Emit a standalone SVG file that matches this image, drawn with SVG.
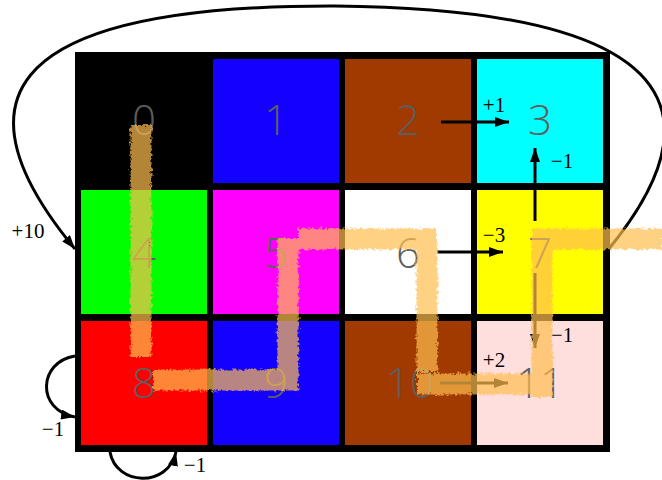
<svg xmlns="http://www.w3.org/2000/svg" width="662" height="480" viewBox="0 0 662 480">
  <style>
    .num { font-family: "Open Sans", "Lato", "DejaVu Sans", sans-serif; font-weight: 300; font-size: 42px; fill: #5e5e5e; text-anchor: middle; }
    .lbl { font-family: "Liberation Serif", "Times New Roman", serif; font-size: 21px; fill: #000; text-anchor: middle; }
    .edge { fill: none; stroke: #000; stroke-width: 3; }
    .brush { fill: none; stroke: rgb(255,190,80); stroke-width: 21; stroke-linecap: butt; }
  </style>
  <defs>
    <marker id="ah" viewBox="0 0 14 10" refX="14" refY="5" markerWidth="14" markerHeight="10" markerUnits="userSpaceOnUse" orient="auto">
      <path d="M0,0 L14,5 L0,10 z" fill="#000"/>
    </marker>
    <filter id="rough" x="-10%" y="-10%" width="120%" height="120%">
      <feTurbulence type="fractalNoise" baseFrequency="0.35" numOctaves="2" seed="3" result="n"/>
      <feDisplacementMap in="SourceGraphic" in2="n" scale="6" xChannelSelector="R" yChannelSelector="G"/>
    </filter>
  </defs>

  <rect x="75" y="52" width="535" height="400" fill="#000"/>

  <g id="cell0"><rect x="81" y="59" width="126" height="124" fill="#000"/><text class="num" x="144" y="135">0</text></g>
  <g id="cell1"><rect x="213" y="59" width="126" height="124" fill="#1400ff"/><text class="num" x="276" y="135">1</text></g>
  <g id="cell2"><rect x="345" y="59" width="126" height="124" fill="#a03a00"/><text class="num" x="408" y="135">2</text></g>
  <g id="cell3"><rect x="477" y="59" width="126" height="124" fill="#00ffff"/><text class="num" x="540" y="135">3</text></g>
  <g id="cell4"><rect x="81" y="190" width="126" height="124" fill="#00ff00"/><text class="num" x="144" y="268">4</text></g>
  <g id="cell5"><rect x="213" y="190" width="126" height="124" fill="#ff00ff"/><text class="num" x="276" y="268">5</text></g>
  <g id="cell6"><rect x="345" y="190" width="126" height="124" fill="#ffffff"/><text class="num" x="408" y="268">6</text></g>
  <g id="cell7"><rect x="477" y="190" width="126" height="124" fill="#ffff00"/><text class="num" x="540" y="268">7</text></g>
  <g id="cell8"><rect x="81" y="321" width="126" height="124" fill="#ff0000"/><text class="num" x="144" y="398">8</text></g>
  <g id="cell9"><rect x="213" y="321" width="126" height="124" fill="#1400ff"/><text class="num" x="276" y="398">9</text></g>
  <g id="cell10"><rect x="345" y="321" width="126" height="124" fill="#a03a00"/><text class="num" x="410" y="398">10</text></g>
  <g id="cell11"><rect x="477" y="321" width="126" height="124" fill="#ffdede"/><text class="num" x="540" y="398">11</text></g>

  <g id="connectors">
    <path class="edge" d="M441 122 H509" marker-end="url(#ah)"/>
    <path class="edge" d="M535 221 V148" marker-end="url(#ah)"/>
    <path class="edge" d="M437 252 H503" marker-end="url(#ah)"/>
    <path class="edge" d="M535 273 V348" marker-end="url(#ah)"/>
    <path class="edge" d="M440 383 H508" marker-end="url(#ah)"/>
    <path class="edge" d="M608 250 C690 150 740 10 335 6 C-15 5 -40 110 75 249" marker-end="url(#ah)"/>
    <path class="edge" d="M75 356 C38 362 36 410 75 417" marker-end="url(#ah)"/>
    <path class="edge" d="M110 452 C116 486 168 488 176 452" marker-end="url(#ah)"/>
    <text class="lbl" x="494" y="112">+1</text>
    <text class="lbl" x="562" y="168">−1</text>
    <text class="lbl" x="494" y="242">−3</text>
    <text class="lbl" x="562" y="342">−1</text>
    <text class="lbl" x="494" y="367">+2</text>
    <text class="lbl" x="28" y="238">+10</text>
    <text class="lbl" x="53" y="436">−1</text>
    <text class="lbl" x="195" y="472">−1</text>
  </g>

  <g id="path-overlay" opacity="0.7" filter="url(#rough)">
    <path class="brush" d="M141 125 V357"/>
    <path class="brush" d="M153 380 H298"/>
    <path class="brush" d="M288 390 V238"/>
    <path class="brush" d="M298 239 H436"/>
    <path class="brush" d="M427 239 V372"/>
    <path class="brush" d="M417 384 H543"/>
    <path class="brush" d="M542 397 V229"/>
    <path class="brush" d="M532 239 H662"/>
  </g>
</svg>
